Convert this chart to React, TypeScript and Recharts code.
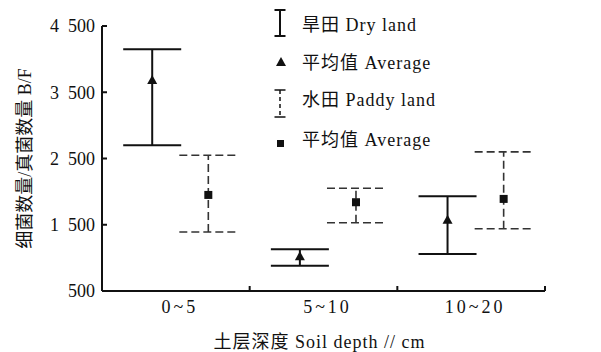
import React from 'react';
import { ScatterChart, Scatter, XAxis, YAxis, ErrorBar, Customized, Label } from 'recharts';

const categories = ['0~5', '5~10', '10~20'];
const dryLow = [2700, 880, 1060];
const dryHigh = [4150, 1130, 1930];
const dryMean = [3670, 1010, 1560];
const paddyLow = [1390, 1530, 1440];
const paddyHigh = [2550, 2050, 2600];
const paddyMean = [1950, 1840, 1890];
const yTicks = [500, 1500, 2500, 3500, 4500];
const legendLabels = ['旱田 Dry land', '平均值 Average', '水田 Paddy land', '平均值 Average'];
const xTitle = '土层深度 Soil depth // cm';
const yTitle = '细菌数量/真菌数量 B/F';

const DRY_OFFSET = 0.34;
const PADDY_OFFSET = 0.72;
const FONT = '"Liberation Serif", "Noto Sans CJK SC", serif';
const INK = '#111';

const dryData = categories.map((c, i) => ({
  x: i + DRY_OFFSET,
  y: dryMean[i],
  err: [dryMean[i] - dryLow[i], dryHigh[i] - dryMean[i]],
}));
const paddyData = categories.map((c, i) => ({
  x: i + PADDY_OFFSET,
  y: paddyMean[i],
  err: [paddyMean[i] - paddyLow[i], paddyHigh[i] - paddyMean[i]],
}));

const xTicks: number[] = [];
categories.forEach((c, i) => {
  xTicks.push(i + 0.5);
  xTicks.push(i + 1);
});

const fmtY = (v: number) =>
  v >= 1000 ? `${Math.floor(v / 1000)}\u2002${String(v % 1000).padStart(3, '0')}` : String(v);

const XTick = (props: any) => {
  const { x, y, payload } = props;
  const v = payload.value;
  if (Number.isInteger(v)) {
    return <line x1={x} x2={x} y1={y} y2={y - 5} stroke={INK} strokeWidth={2} />;
  }
  return (
    <text x={x + 4} y={y + 22} textAnchor="middle" fontSize={18} letterSpacing={3} fontFamily={FONT} fill={INK}>
      {categories[Math.floor(v)]}
    </text>
  );
};

const YTick = (props: any) => {
  const { x, y, payload } = props;
  return (
    <g>
      <line x1={x} x2={x + 5} y1={y} y2={y} stroke={INK} strokeWidth={2} />
      <text x={x - 7} y={y} dy="0.35em" textAnchor="end" fontSize={18} fontFamily={FONT} fill={INK}>
        {fmtY(payload.value)}
      </text>
    </g>
  );
};

const triangleShape = (props: any) => {
  const { cx, cy } = props;
  return <path d={`M${cx},${cy - 6}L${cx + 5},${cy + 3}L${cx - 5},${cy + 3}Z`} fill={INK} />;
};
const squareShape = (props: any) => {
  const { cx, cy } = props;
  return <rect x={cx - 4} y={cy - 4} width={8} height={8} fill={INK} />;
};

const LegendBlock = () => {
  const ix = 272;
  const tx = 294;
  const ys = [17, 55, 92, 132];
  return (
    <g>
      <line x1={ix} x2={ix} y1={2} y2={28} stroke={INK} strokeWidth={2} />
      <line x1={ix - 5.5} x2={ix + 5.5} y1={2} y2={2} stroke={INK} strokeWidth={2} />
      <line x1={ix - 5.5} x2={ix + 5.5} y1={28} y2={28} stroke={INK} strokeWidth={2} />
      <path d={`M${ix + 1},${ys[1] - 6}L${ix + 6},${ys[1] + 3}L${ix - 4},${ys[1] + 3}Z`} fill={INK} />
      <line x1={ix} x2={ix} y1={82} y2={109} stroke={INK} strokeWidth={1.5} strokeDasharray="4 3" />
      <line x1={ix - 5.5} x2={ix + 5.5} y1={82} y2={82} stroke={INK} strokeWidth={1.5} />
      <line x1={ix - 5.5} x2={ix + 5.5} y1={109} y2={109} stroke={INK} strokeWidth={1.5} />
      <rect x={ix - 3} y={ys[3] + 0} width={7} height={7} fill={INK} />
      {legendLabels.map((t, i) => (
        <text key={i} x={tx} y={ys[i]} dy="0.35em" fontSize={18} letterSpacing={1} fontFamily={FONT} fill={INK}>
          {t}
        </text>
      ))}
    </g>
  );
};

const XTitle = (props: any) => {
  const vb = props.viewBox;
  return (
    <text x={vb.x + vb.width / 2 - 4} y={vb.y + 51} dy="0.35em" textAnchor="middle" fontSize={18} letterSpacing={1} fontFamily={FONT} fill={INK}>
      {xTitle}
    </text>
  );
};

const YTitle = (props: any) => {
  const vb = props.viewBox;
  const cx = vb.x + 17;
  const cy = vb.y + vb.height / 2;
  return (
    <text x={cx} y={cy} dy="0.35em" textAnchor="middle" fontSize={18} fontFamily={FONT} fill={INK} transform={`rotate(-90 ${cx} ${cy})`}>
      {yTitle}
    </text>
  );
};

export default function App() {
  return (
    <div style={{ width: 590, height: 344, fontFamily: FONT }}>
      <ScatterChart width={590} height={344} margin={{ top: 18, right: 53, bottom: 0, left: 0 }}>
        <XAxis
          dataKey="x"
          type="number"
          domain={[0, 3]}
          ticks={xTicks}
          interval={0}
          tickLine={false}
          tickSize={0}
          tickMargin={0}
          height={61}
          axisLine={{ stroke: INK, strokeWidth: 2 }}
          tick={<XTick />}
        >
          <Label content={<XTitle />} />
        </XAxis>
        <YAxis
          dataKey="y"
          type="number"
          domain={[500, 4500]}
          ticks={yTicks}
          interval={0}
          tickLine={false}
          tickSize={0}
          tickMargin={0}
          width={94}
          axisLine={{ stroke: INK, strokeWidth: 2 }}
          tick={<YTick />}
        >
          <Label content={<YTitle />} />
        </YAxis>
        <Scatter data={dryData} fill={INK} shape={triangleShape} isAnimationActive={false}>
          <ErrorBar dataKey="err" direction="y" width={29} stroke={INK} strokeWidth={2} isAnimationActive={false} />
        </Scatter>
        <Scatter data={paddyData} fill={INK} shape={squareShape} isAnimationActive={false}>
          <ErrorBar dataKey="err" direction="y" width={29} stroke="#333" strokeWidth={1.6} strokeDasharray="8 4" isAnimationActive={false} />
        </Scatter>
        <Customized component={<LegendBlock />} />
      </ScatterChart>
    </div>
  );
}
